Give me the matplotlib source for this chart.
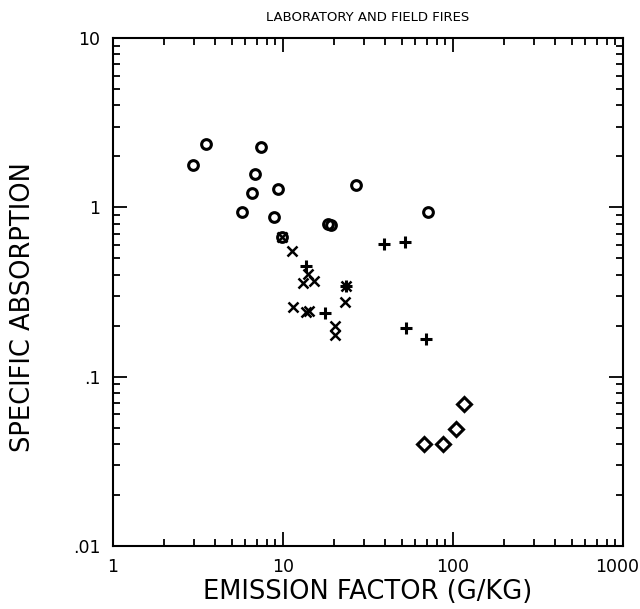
import matplotlib
matplotlib.use("Agg")
import matplotlib.pyplot as plt
from matplotlib.transforms import ScaledTranslation
from matplotlib.ticker import LogLocator, FixedLocator, FixedFormatter, NullFormatter

plt.rcParams['font.family'] = ['Liberation Sans Narrow', 'DejaVu Sans']

# open circles
circ_x = [2.94, 3.52, 7.39, 6.87, 6.54, 9.38, 5.76, 8.85, 18.5, 19.2, 26.8, 71.6, 9.9]
circ_y = [1.77, 2.37, 2.28, 1.57, 1.22, 1.28, 0.94, 0.88, 0.80, 0.79, 1.35, 0.94, 0.67]

# crosses
cross_x = [9.9, 11.3, 14.0, 13.2, 15.3, 23.4, 23.2, 11.5, 13.7, 14.2, 20.2, 20.2]
cross_y = [0.67, 0.552, 0.404, 0.359, 0.368, 0.343, 0.277, 0.257, 0.240, 0.245, 0.199, 0.176]

# plus signs
plus_x = [39.4, 52.2, 13.7, 23.4, 17.7, 52.7, 69.4]
plus_y = [0.61, 0.62, 0.452, 0.343, 0.237, 0.195, 0.168]

# diamonds
diam_x = [67.5, 87.7, 103.7, 116.0]
diam_y = [0.0398, 0.0398, 0.049, 0.0686]

x_ticks = [1, 10, 100, 1000]
x_labels = ['1', '10', '100', '1000']
y_ticks = [0.01, 0.1, 1, 10]
y_labels = ['.01', '.1', '1', '10']

fig = plt.figure(figsize=(6.4, 6.09), dpi=100)
ax = fig.add_axes([113/640, 1-546/609, 510/640, 508/609])

ax.plot(circ_x, circ_y, 'o', ms=7, mfc='none', mec='black', mew=2.2)
ax.plot(cross_x, cross_y, 'x', ms=7, mec='black', mew=1.8)
ax.plot(plus_x, plus_y, '+', ms=8, mec='black', mew=2.2)
ax.plot(diam_x, diam_y, 'D', ms=7, mfc='none', mec='black', mew=2.2)

ax.set_xscale('log')
ax.set_yscale('log')
ax.set_xlim(1, 1000)
ax.set_ylim(0.01, 10)

ax.xaxis.set_major_locator(FixedLocator(x_ticks))
ax.xaxis.set_major_formatter(FixedFormatter(x_labels))
ax.yaxis.set_major_locator(FixedLocator(y_ticks))
ax.yaxis.set_major_formatter(FixedFormatter(y_labels))
ax.xaxis.set_minor_locator(LogLocator(base=10, subs=range(2, 10)))
ax.yaxis.set_minor_locator(LogLocator(base=10, subs=range(2, 10)))
ax.xaxis.set_minor_formatter(NullFormatter())
ax.yaxis.set_minor_formatter(NullFormatter())

ax.tick_params(which='both', direction='in', top=True, right=True, width=1.3, labelsize=12.5, pad=9)
ax.tick_params(which='major', length=10)
ax.tick_params(which='minor', length=5)
for s in ax.spines.values():
    s.set_linewidth(1.5)

# keep the last x label inside the canvas
fig.canvas.draw()
last = ax.get_xticklabels()[-1]
last.set_transform(last.get_transform() + ScaledTranslation(-4/72, 0, fig.dpi_scale_trans))

ax.set_title('LABORATORY AND FIELD FIRES', fontsize=9.5, pad=12)
ax.set_xlabel('EMISSION FACTOR (G/KG)', fontsize=18.5)
ax.xaxis.set_label_coords(0.5, -0.065)
ax.set_ylabel('SPECIFIC ABSORPTION', fontsize=18.5)
ax.yaxis.label.set_verticalalignment('center')
ax.yaxis.set_label_coords(-0.176, 0.47)

fig.savefig('out.png', dpi=100, facecolor='white')
